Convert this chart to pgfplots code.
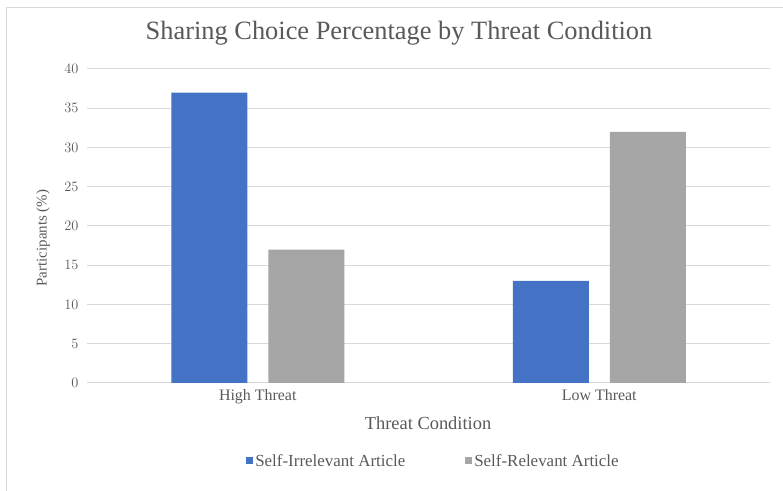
\documentclass[border=0pt]{standalone}
\usepackage{pgfplots}
\pgfplotsset{compat=1.18}
\usepackage{fontspec}
\setmainfont{Liberation Serif}
\definecolor{cblue}{HTML}{4472C4}
\definecolor{cgray}{HTML}{A5A5A5}
\definecolor{txt}{HTML}{595959}
\definecolor{gridc}{HTML}{D9D9D9}
\begin{document}
\begin{tikzpicture}[x=1bp,y=1bp]
\useasboundingbox (0,0) rectangle (783,491);
\draw[gridc, line width=1bp] (6.5,-5) -- (6.5,483) -- (790,483);
\begin{axis}[
  at={(87bp,108bp)}, anchor=south west,
  scale only axis, width=683bp, height=314bp,
  xmin=-0.5, xmax=1.5, ymin=0, ymax=40,
  enlargelimits=false,
  ybar, bar width=76bp,
  xtick={0,1}, xticklabels={High Threat, Low Threat},
  ytick={0,5,...,40},
  ymajorgrids, grid style={gridc, line width=1bp},
  axis line style={draw=none},
  tick style={draw=none}, major tick length=0pt,
  ticklabel style={font=\fontsize{15}{17}\selectfont, text=txt},
  xticklabel style={font=\fontsize{16}{18}\selectfont, yshift=-3bp},
  yticklabel style={xshift=-5bp},
  legend columns=2,
  legend style={at={(0.5073,-0.248)}, anchor=center, draw=none, fill=none,
    font=\fontsize{17}{19}\selectfont, text=txt,
    /tikz/every even column/.append style={column sep=58bp}},
  legend image code/.code={\fill[#1] (-3bp,-3.5bp) rectangle (4bp,3.5bp);},
]
\addplot[fill=cblue, draw=none, bar shift=-48.5bp] coordinates {(0,37) (1,13)};
\addplot[fill=cgray, draw=none, bar shift=48.5bp] coordinates {(0,17) (1,32)};
\legend{Self-Irrelevant Article, Self-Relevant Article}
\end{axis}
\node[text=txt, font=\fontsize{26.5}{30}\selectfont] at (399,458) {Sharing Choice Percentage by Threat Condition};
\node[text=txt, font=\fontsize{18.5}{22}\selectfont] at (428,68) {Threat Condition};
\node[text=txt, font=\fontsize{15}{18}\selectfont, rotate=90] at (43,253) {Participants (\%)};
\end{tikzpicture}
\end{document}
